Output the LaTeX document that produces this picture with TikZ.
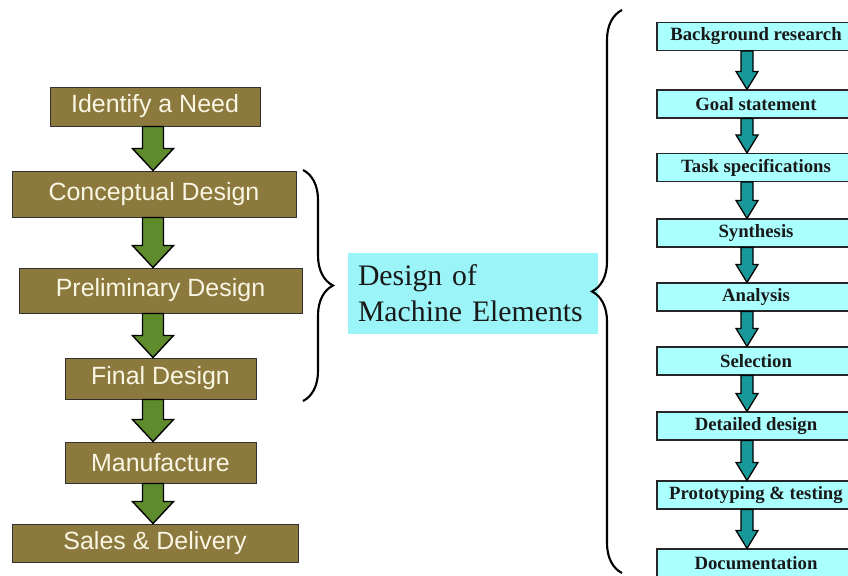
\documentclass[tikz,border=0pt]{standalone}
\usepackage{fontspec}
\setmainfont{Liberation Serif}
\newfontfamily\arialfont{Liberation Sans}
\usetikzlibrary{calc,decorations.pathreplacing}

\definecolor{stagebrown}{RGB}{140,121,62}
\definecolor{stagetext}{RGB}{250,246,228}
\definecolor{leafgreen}{RGB}{94,140,44}
\definecolor{tealfill}{RGB}{24,152,152}
\definecolor{taskaqua}{RGB}{170,255,255}
\definecolor{labelaqua}{RGB}{155,245,248}

\begin{document}
\begin{tikzpicture}
  [stage/.style={draw=black!80,line width=0.8pt,fill=stagebrown,text=stagetext,
     font=\arialfont\fontsize{21.3}{24}\selectfont,inner sep=0pt},
   task/.style={draw=black!85,line width=1pt,fill=taskaqua,text=black!90,
     font=\bfseries\fontsize{16}{18}\selectfont,minimum width=5.94cm,
     minimum height=0.84cm,inner sep=0pt},
   greenarrow/.style={draw=black,line width=1.2pt,fill=leafgreen},
   tealarrow/.style={draw=black,line width=1.1pt,fill=tealfill},
   curly/.style={decorate,decoration={brace,amplitude=0.9cm},line width=1.8pt}]

  \useasboundingbox (0,0) rectangle (25.44,17.25);

  % main process, left column
  \node (need)    [stage,minimum width=6.3cm, minimum height=1.17cm] at (4.65,14.055) {Identify a Need};
  \node (concept) [stage,minimum width=8.52cm,minimum height=1.38cm] at (4.62,11.43)  {Conceptual Design};
  \node (prelim)  [stage,minimum width=8.49cm,minimum height=1.35cm] at (4.815,8.535) {Preliminary Design};
  \node (final)   [stage,minimum width=5.73cm,minimum height=1.23cm] at (4.815,5.895) {Final Design};
  \node (manuf)   [stage,minimum width=5.73cm,minimum height=1.23cm] at (4.815,3.375) {Manufacture};
  \node (sales)   [stage,minimum width=8.58cm,minimum height=1.14cm] at (4.65,0.96)   {Sales \& Delivery};

  \coordinate (lspine) at (4.59,0);
  \foreach \from/\to in {need/concept,concept/prelim,prelim/final,final/manuf,manuf/sales}
    \draw[greenarrow] ($(\from.south -| lspine)+(-0.315,0)$) -- ($(\to.north -| lspine)+(-0.315,0.66)$)
      -- ++(-0.3,0) -- (\to.north -| lspine) -- ++(0.615,0.66) -- ++(-0.3,0)
      -- ($(\from.south -| lspine)+(0.315,0)$) -- cycle;

  % design stages grouped
  \coordinate (ltop) at (9.09,12.15);
  \coordinate (lbot) at (9.09,5.22);
  \draw[curly] (ltop) -- (lbot);

  \node (dme) [fill=labelaqua,text=black!90,align=left,text width=6.9cm,inner xsep=0.3cm,
    minimum height=2.43cm,font=\fontsize{25.4}{30.7}\selectfont] at (14.19,8.445)
    {Design of\\Machine Elements};

  \coordinate (rbot) at (18.66,0.06);
  \coordinate (rtop) at (18.66,16.95);
  \draw[curly] (rbot) -- (rtop);

  % detailed steps, right column
  \node (research) [task] at (22.68,16.155) {Background research};
  \node (goal)     [task] at (22.68,14.13)  {Goal statement};
  \node (specs)    [task] at (22.68,12.225) {Task specifications};
  \node (synth)    [task] at (22.68,10.26)  {Synthesis};
  \node (analysis) [task] at (22.68,8.34)   {Analysis};
  \node (select)   [task] at (22.68,6.42)   {Selection};
  \node (detail)   [task] at (22.68,4.47)   {Detailed design};
  \node (proto)    [task] at (22.68,2.4)    {Prototyping \& testing};
  \node (docs)     [task] at (22.68,0.36)   {Documentation};

  \coordinate (rspine) at (22.41,0);
  \foreach \from/\to in {research/goal,goal/specs,specs/synth,synth/analysis,analysis/select,
                         select/detail,detail/proto,proto/docs}
    \draw[tealarrow] ($(\from.south -| rspine)+(-0.18,0)$) -- ($(\to.north -| rspine)+(-0.18,0.54)$)
      -- ++(-0.15,0) -- (\to.north -| rspine) -- ++(0.33,0.54) -- ++(-0.15,0)
      -- ($(\from.south -| rspine)+(0.18,0)$) -- cycle;
\end{tikzpicture}
\end{document}
